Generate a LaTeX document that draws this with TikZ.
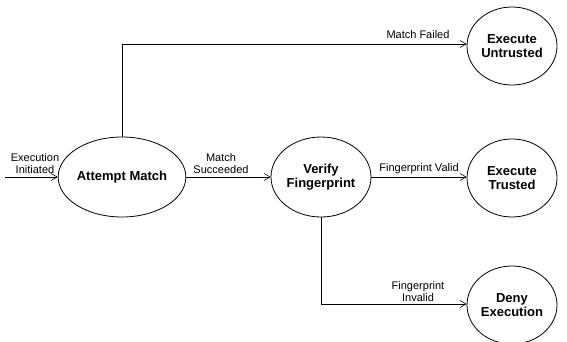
\documentclass[tikz,border=0pt]{standalone}
\usepackage{fontspec}
\setmainfont{Liberation Sans}
\usetikzlibrary{shapes.geometric,arrows.meta}
\begin{document}
\begin{tikzpicture}[x=1pt,y=-1pt,
  state/.style={draw,ellipse,line width=0.8pt,minimum width=100pt,minimum height=80pt,inner sep=0pt,align=center,font=\fontsize{13}{14}\selectfont\bfseries},
  smallstate/.style={state,minimum width=90pt,minimum height=78pt},
  conn/.style={line width=0.6pt,-{Straight Barb[length=6pt,width=7pt,line width=0.6pt]}},
  lbl/.style={font=\fontsize{11}{12}\selectfont,align=center,inner sep=0pt}]
\useasboundingbox (0,0) rectangle (567,342);
\node[state] (am) at (122,177) {Attempt Match};
\node[state] (vf) at (321,177) {Verify\\Fingerprint};
\node[smallstate] (et) at (512,178) {Execute\\Trusted};
\node[smallstate] (eu) at (512,46) {Execute\\Untrusted};
\node[smallstate] (de) at (512,305) {Deny\\Execution};
\coordinate (start) at (5,177);
\draw[conn] (start) -- (am);
\node[lbl] (l0) at (35,164) {Execution\\Initiated};
\draw[conn] (am) -- (vf);
\node[lbl] (l1) at (221,164) {Match\\Succeeded};
\draw[conn] (vf.east) -- (et.west |- vf.east);
\node[lbl] (l2) at (419,169) {Fingerprint Valid};
\draw[conn] (am.north) |- (eu.west |- 0,44);
\node[lbl] (l3) at (418,35) {Match Failed};
\draw[conn] (vf.south) |- (de.west |- 0,304);
\node[lbl] (l4) at (418,292) {Fingerprint\\Invalid};
\end{tikzpicture}
\end{document}
